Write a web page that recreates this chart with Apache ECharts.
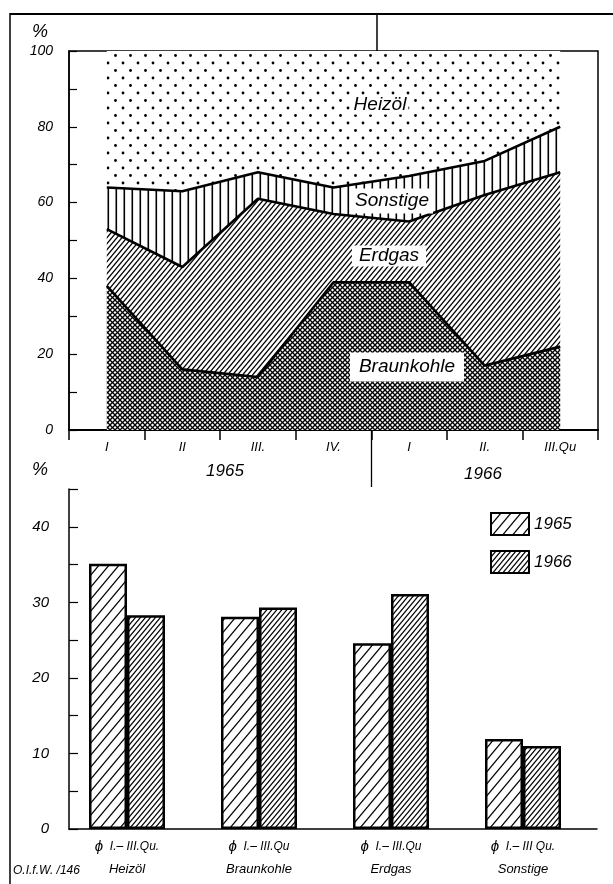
<!DOCTYPE html>
<html>
<head>
<meta charset="utf-8">
<script src="https://cdn.jsdelivr.net/npm/echarts@6/dist/echarts.min.js"></script>
<style>
html,body{margin:0;padding:0;background:#fff;}
#chart{width:613px;height:884px;}
</style>
</head>
<body>
<div id="chart"></div>
<script>
// ---- data ----
const quarters = ['I', 'II', 'III.', 'IV.', 'I', 'II.', 'III.Qu'];
const years = ['1965', '1966'];
const braunkohle = [38, 16, 14, 39, 39, 17, 22];
const erdgas = [15, 27, 47, 18, 16, 45, 46];
const sonstige = [11, 20, 7, 7, 12, 9, 12];
const heizoel = [36, 37, 32, 36, 33, 29, 20];
const areaNames = ['Braunkohle', 'Erdgas', 'Sonstige', 'Heizöl'];

const barCats = ['Heizöl', 'Braunkohle', 'Erdgas', 'Sonstige'];
const barPeriods = ['I.– III.Qu.', 'I.– III.Qu', 'I.– III.Qu', 'I.– III Qu.'];
const avg1965 = [35.1, 28.1, 24.6, 11.9];
const avg1966 = [28.3, 29.3, 31.1, 11.0];

// ---- patterns ----
const FONT = '"Liberation Sans", Arial, sans-serif';
function tile(w, h, draw) {
  const c = document.createElement('canvas');
  c.width = w; c.height = h;
  const g = c.getContext('2d');
  g.fillStyle = '#fff'; g.fillRect(0, 0, w, h);
  g.strokeStyle = '#000'; g.fillStyle = '#000';
  draw(g, w, h);
  return { image: c, repeat: 'repeat' };
}
function slash(g, w, h, lw) {
  g.lineWidth = lw;
  for (let k = 0; k <= 2; k++) {
    g.beginPath(); g.moveTo(-w, (k + 1) * h); g.lineTo((k + 1) * w, -h); g.stroke();
  }
}
function backslash(g, w, h, lw) {
  g.lineWidth = lw;
  for (let k = -1; k <= 1; k++) {
    g.beginPath(); g.moveTo((k - 1) * w, -h); g.lineTo((k + 2) * w, 2 * h); g.stroke();
  }
}
const patCross = tile(5, 5, (g, w, h) => { slash(g, w, h, 1.3); backslash(g, w, h, 1.3); });
const patErdgas = tile(5, 6, (g, w, h) => slash(g, w, h, 1.3));
const patVert = tile(8, 4, (g, w, h) => { g.fillRect(3.5, 0, 1.6, h); });
const patDots = tile(15, 15, (g) => {
  g.beginPath(); g.arc(3, 3, 1.4, 0, Math.PI * 2); g.fill();
  g.beginPath(); g.arc(10.5, 10.5, 1.4, 0, Math.PI * 2); g.fill();
});
const patWide = tile(10, 12, (g, w, h) => slash(g, w, h, 1.2));
const patNarrow = tile(5, 6, (g, w, h) => slash(g, w, h, 1.2));

const areaPatterns = [patCross, patErdgas, patVert, patDots];
const areaData = [braunkohle, erdgas, sonstige, heizoel];

const chart = echarts.init(document.getElementById('chart'), null, { renderer: 'canvas' });

const txt = (extra) => Object.assign({ color: '#000', fontStyle: 'italic', fontFamily: FONT }, extra);

function gText(text, x, y, size, opts) {
  return {
    type: 'text', z: 100,
    style: Object.assign({
      text: text, x: x, y: y, fill: '#000',
      font: 'italic ' + size + 'px ' + FONT,
      align: 'center', verticalAlign: 'middle'
    }, opts || {})
  };
}
function gLine(x1, y1, x2, y2, w) {
  return { type: 'line', z: 100, shape: { x1, y1, x2, y2 }, style: { stroke: '#000', lineWidth: w } };
}

const option = {
  backgroundColor: '#fff',
  animation: false,
  grid: [
    { left: 69, top: 51, width: 529, height: 379, show: true, borderColor: '#000', borderWidth: 1.5, backgroundColor: 'transparent' },
    { left: 61, top: 489, width: 528, height: 340 },
    { left: 69, top: 489, width: 528, height: 340 }
  ],
  legend: {
    data: years, orient: 'vertical', left: 485, top: 507,
    itemWidth: 38, itemHeight: 22, itemGap: 14, icon: 'rect',
    textStyle: txt({ fontSize: 17 })
  },
  xAxis: [
    {
      gridIndex: 0, type: 'category', data: quarters, boundaryGap: true,
      axisLine: { show: true, lineStyle: { color: '#000', width: 2 } },
      axisTick: { show: true, interval: 0, inside: false, length: 10, lineStyle: { color: '#000', width: 1.5 } },
      axisLabel: txt({ fontSize: 13, margin: 11, interval: 0 })
    },
    {
      gridIndex: 1, type: 'category', data: barCats,
      axisLine: { show: false }, axisTick: { show: false },
      axisLabel: txt({
        margin: 6, interval: 0,
        formatter: (v, i) => '{c|ϕ}{a|  ' + barPeriods[i] + '}\n{b|' + v + '}',
        rich: {
          c: { fontSize: 15, fontStyle: 'italic', fontFamily: FONT, lineHeight: 23 },
          a: { fontSize: 12, fontStyle: 'italic', fontFamily: FONT, lineHeight: 23 },
          b: { fontSize: 13, fontStyle: 'italic', fontFamily: FONT, lineHeight: 23 }
        }
      })
    },
    {
      gridIndex: 2, type: 'value', min: 0, max: 1,
      axisLine: { show: true, onZero: false, lineStyle: { color: '#000', width: 1.5 } },
      axisTick: { show: false }, axisLabel: { show: false }, splitLine: { show: false }
    }
  ],
  yAxis: [
    {
      gridIndex: 0, type: 'value', min: 0, max: 100, interval: 10,
      axisLine: { show: true, lineStyle: { color: '#000', width: 1.5 } },
      axisTick: { show: true, inside: true, length: 8, lineStyle: { color: '#000', width: 1.2 } },
      axisLabel: txt({ fontSize: 14, margin: 16, formatter: v => (v % 20 === 0 ? String(v) : '') }),
      splitLine: { show: false }
    },
    { gridIndex: 1, type: 'value', min: 0, max: 45, show: false, splitLine: { show: false } },
    {
      gridIndex: 2, type: 'value', min: 0, max: 45, interval: 5,
      axisLine: { show: true, lineStyle: { color: '#000', width: 1.5 } },
      axisTick: { show: true, inside: true, length: 9, lineStyle: { color: '#000', width: 1.2 } },
      axisLabel: txt({ fontSize: 15, margin: 20, formatter: v => (v % 10 === 0 ? String(v) : '') }),
      splitLine: { show: false }
    }
  ],
  series: areaNames.map((name, i) => ({
    name: name, type: 'line', stack: 'total', xAxisIndex: 0, yAxisIndex: 0,
    data: areaData[i], symbol: 'none', z: 10 - i,
    lineStyle: { color: '#000', width: i === 3 ? 0 : 2.6, opacity: i === 3 ? 0 : 1 },
    areaStyle: { color: areaPatterns[i], opacity: 1 }
  })).concat([
    {
      name: '1965', type: 'bar', xAxisIndex: 1, yAxisIndex: 1, data: avg1965,
      barWidth: 38, barGap: '0%',
      itemStyle: { color: patWide, borderColor: '#000', borderWidth: 2.5 }
    },
    {
      name: '1966', type: 'bar', xAxisIndex: 1, yAxisIndex: 1, data: avg1966,
      barWidth: 38, barGap: '0%',
      itemStyle: { color: patNarrow, borderColor: '#000', borderWidth: 2.5 }
    }
  ]),
  graphic: [
    gLine(10, 14, 613, 14, 2),
    gLine(10, 13, 10, 884, 1.5),
    gLine(377, 13, 377, 51, 1.5),
    gLine(371.5, 430, 371.5, 487, 1.3),
    gText('%', 40, 32, 18),
    gText('%', 40, 470, 18),
    gText(years[0], 225, 471, 17),
    gText(years[1], 483, 474, 17),
    gText('O.I.f.W. /146', 13, 871, 12, { align: 'left' }),
    gText('Heizöl', 380, 105, 19, { backgroundColor: '#fff', padding: [0, 2] }),
    gText('Sonstige', 392, 201, 19, { backgroundColor: '#fff', padding: [3, 4] }),
    gText('Erdgas', 389, 256, 19, { backgroundColor: '#fff', padding: [1, 7] }),
    gText('Braunkohle', 407, 367, 19, { backgroundColor: '#fff', padding: [5, 9] })
  ]
};
chart.setOption(option);
</script>
</body>
</html>
